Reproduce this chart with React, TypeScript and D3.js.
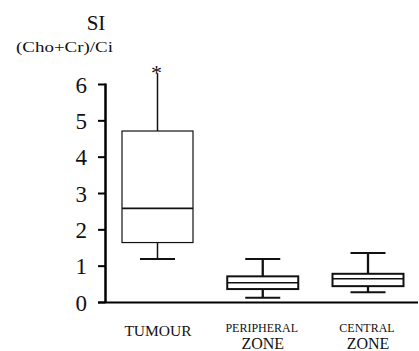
import React from 'react'
import * as d3 from 'd3'

// box plot values
const categories = ['TUMOUR', 'PERIPHERAL', 'CENTRAL']
const labelTop = ['TUMOUR', 'PERIPHERAL', 'CENTRAL']
const labelBottom = ['', 'ZONE', 'ZONE']
const whiskerLow = [1.2, 0.13, 0.28]
const q1 = [1.65, 0.37, 0.45]
const median = [2.59, 0.545, 0.655]
const q3 = [4.72, 0.72, 0.79]
const whiskerHigh = [6.31, 1.2, 1.36]
const upperCap = [false, true, true]
const outlierMark = ['*', '', '']
const yTicks = [0, 1, 2, 3, 4, 5, 6]

const serif = {fontFamily: "'Liberation Serif'"}

function App() {
  const yScale = d3.scaleLinear().domain([0, 6]).range([302.5, 84.5])
  const xScale = d3.scalePoint<string>().domain(categories).range([157.5, 368])
  const axisX = 105.5
  const boxW = 71
  const capW = 35

  return (
    <svg width={419} height={351} style={{position: 'absolute', left: 0, top: 0, background: '#fff'}}>
      {/* titles */}
      <text x={96} y={29.5} fontSize={21} textAnchor="middle" fill="#111" style={serif}>
        SI
      </text>
      <text x={16} y={52} fontSize={15} textLength={97} lengthAdjust="spacingAndGlyphs" fill="#111" style={serif}>
        (Cho+Cr)/Ci
      </text>

      {/* y axis */}
      <line x1={axisX} x2={axisX} y1={yScale(6) - 1} y2={yScale(0)} stroke="#000" strokeWidth={2.5} />
      {yTicks.map(t => (
        <g key={t}>
          <line x1={98} x2={axisX} y1={yScale(t)} y2={yScale(t)} stroke="#000" strokeWidth={2} />
          <text x={87} y={yScale(t) + 8} fontSize={23} textAnchor="end" fill="#111" style={serif}>
            {t}
          </text>
        </g>
      ))}

      {/* x axis */}
      <line x1={98} x2={418} y1={yScale(0)} y2={yScale(0)} stroke="#000" strokeWidth={2.2} />

      {/* boxes */}
      {categories.map((c, i) => {
        const cx = xScale(c) as number
        const sw = i === 0 ? 1.2 : 2
        return (
          <g key={c} stroke="#111" fill="none">
            <line x1={cx} x2={cx} y1={yScale(q3[i])} y2={yScale(whiskerHigh[i])} strokeWidth={sw + 0.3} />
            <line x1={cx} x2={cx} y1={yScale(q1[i])} y2={yScale(whiskerLow[i])} strokeWidth={sw + 0.3} />
            {upperCap[i] && (
              <line
                x1={cx - capW / 2}
                x2={cx + capW / 2}
                y1={yScale(whiskerHigh[i])}
                y2={yScale(whiskerHigh[i])}
                strokeWidth={2}
              />
            )}
            <line
              x1={cx - capW / 2}
              x2={cx + capW / 2}
              y1={yScale(whiskerLow[i])}
              y2={yScale(whiskerLow[i])}
              strokeWidth={2}
            />
            <rect
              x={cx - boxW / 2}
              y={yScale(q3[i])}
              width={boxW}
              height={yScale(q1[i]) - yScale(q3[i])}
              fill="#fff"
              strokeWidth={sw}
            />
            <line
              x1={cx - boxW / 2}
              x2={cx + boxW / 2}
              y1={yScale(median[i])}
              y2={yScale(median[i])}
              strokeWidth={i === 0 ? 1.6 : 1.4}
            />
            {outlierMark[i] && (
              <text
                x={cx - 1}
                y={yScale(whiskerHigh[i]) + 7}
                fontSize={22}
                textAnchor="middle"
                fill="#111"
                stroke="none"
                style={serif}>
                {outlierMark[i]}
              </text>
            )}
          </g>
        )
      })}

      {/* category labels */}
      {categories.map((c, i) => {
        const cx = xScale(c) as number
        return labelBottom[i] ? (
          <g key={c} fill="#111" textAnchor="middle" style={serif}>
            <text x={cx - 1} y={331.7} fontSize={12}>
              {labelTop[i]}
            </text>
            <text x={cx} y={349} fontSize={16}>
              {labelBottom[i]}
            </text>
          </g>
        ) : (
          <text key={c} x={cx + 0.5} y={335.7} fontSize={15.5} textAnchor="middle" fill="#111" style={serif}>
            {labelTop[i]}
          </text>
        )
      })}
    </svg>
  )
}

export default App
